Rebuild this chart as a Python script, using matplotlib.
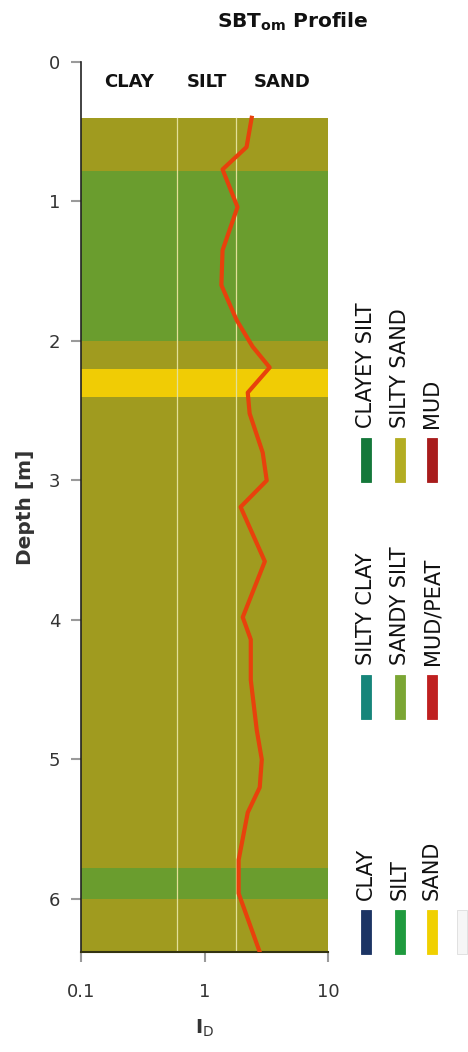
import numpy as np
import matplotlib
matplotlib.use("Agg")
import matplotlib.pyplot as plt
from matplotlib.patches import Rectangle

plt.rcParams['font.family'] = ['DejaVu Sans']

# soil behaviour layers (top, bottom, type)
layer_top = [0.40, 0.78, 2.00, 2.20, 2.40, 5.78, 6.00]
layer_bottom = [0.78, 2.00, 2.20, 2.40, 5.78, 6.00, 6.38]
layer_type = ['SILTY SAND', 'SANDY SILT', 'SILTY SAND', 'SAND',
              'SILTY SAND', 'SANDY SILT', 'SILTY SAND']

# I_D index with depth
depth = [0.40, 0.61, 0.77, 1.04, 1.35, 1.60, 1.85, 2.04, 2.19, 2.37, 2.52,
         2.80, 3.00, 3.19, 3.58, 3.98, 4.14, 4.43, 4.79, 5.00, 5.20, 5.38,
         5.72, 5.96, 6.38]
i_d = [2.41, 2.19, 1.40, 1.85, 1.40, 1.37, 1.82, 2.45, 3.37, 2.24, 2.32,
       2.96, 3.19, 1.96, 3.08, 2.04, 2.37, 2.37, 2.65, 2.91, 2.80, 2.24,
       1.89, 1.89, 2.80]

class_bounds = [0.6, 1.8]
class_names = ['CLAY', 'SILT', 'SAND']
class_pos = [0.245, 1.04, 4.24]

fill_colors = {'SILTY SAND': '#a09b1f', 'SANDY SILT': '#6a9d2e', 'SAND': '#f0cc05'}

legend_groups = [
    [('CLAYEY SILT', '#14783a'), ('SILTY SAND', '#b3ad22'), ('MUD', '#a81c1c')],
    [('SILTY CLAY', '#16857a'), ('SANDY SILT', '#7ba634'), ('MUD/PEAT', '#bf2020')],
    [('CLAY', '#1c3464'), ('SILT', '#1f9a3e'), ('SAND', '#f0d000'), ('', '#f6f6f6')],
]

W, H = 468, 1052
fig = plt.figure(figsize=(W / 100, H / 100), dpi=100)
ax = fig.add_axes([81 / W, 1 - 952 / H, 247 / W, 890 / H])

for top, bot, kind in zip(layer_top, layer_bottom, layer_type):
    ax.axhspan(top, bot, color=fill_colors[kind], lw=0, zorder=1)

for b in class_bounds:
    ax.plot([b, b], [layer_top[0], layer_bottom[-1]], color='#e2df98', lw=0.9, zorder=2)

ax.plot(i_d, depth, color='#e8410c', lw=3.0, zorder=3, solid_joinstyle='round')

for name, xp in zip(class_names, class_pos):
    ax.text(xp, 0.14, name, ha='center', va='center', fontsize=13,
            fontweight='bold', color='#111111')

ax.set_xscale('log')
ax.set_xlim(0.1, 10)
ax.set_ylim(6.38, 0)
ax.set_xticks([0.1, 1, 10])
ax.set_xticklabels(['0.1', '1', '10'])
ax.minorticks_off()
ax.set_yticks(range(7))
ax.tick_params(axis='both', colors='#9a9a9a', labelcolor='#333333', labelsize=13,
               length=7, width=1.5)
ax.tick_params(axis='x', pad=15)
ax.tick_params(axis='y', pad=8)
for s in ['top', 'right']:
    ax.spines[s].set_visible(False)
ax.spines['left'].set_color('#222222')
ax.spines['bottom'].set_color('#333311')
ax.spines['left'].set_linewidth(1.2)
ax.spines['bottom'].set_linewidth(1.5)

ax.set_ylabel('Depth [m]', fontsize=14.5, fontweight='bold', color='#333333', labelpad=10)
ax.set_xlabel(r'I$_\mathrm{D}$', fontsize=14, fontweight='bold', color='#333333', labelpad=12)

fig.text(293 / W, 1 - 22 / H, r'SBT$_{\mathbf{om}}$ Profile', ha='center', va='center',
         fontsize=14.5, fontweight='bold', color='#111111')

# legend columns: rotated labels above small colour bars
group_bar_top = [438, 675, 910]
col_x = [366, 400, 432, 462]
for grp, ytop in zip(legend_groups, group_bar_top):
    for (name, col), xc in zip(grp, col_x):
        edge = '#dddddd' if name == '' else col
        fig.add_artist(Rectangle(((xc - 5) / W, 1 - (ytop + 44) / H), 10 / W, 44 / H,
                                 transform=fig.transFigure, facecolor=col,
                                 edgecolor=edge, lw=0.6))
        if name:
            fig.text(xc / W, 1 - (ytop - 10) / H, name, rotation=90, ha='center',
                     va='bottom', fontsize=15, color='#111111')

fig.savefig('out.png', dpi=100)
